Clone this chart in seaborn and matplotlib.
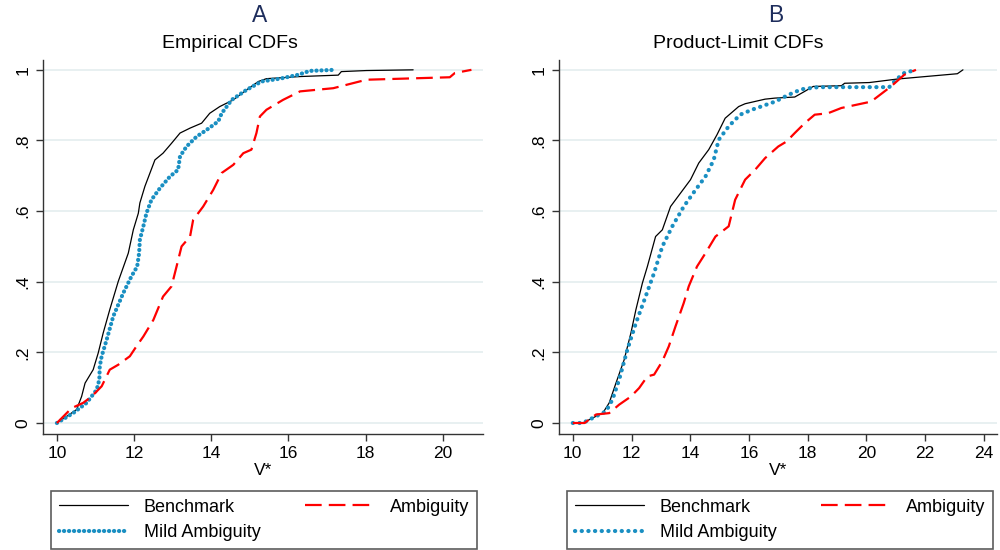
import matplotlib
matplotlib.use("Agg")
import matplotlib.pyplot as plt
import seaborn as sns
import pandas as pd

# ---------------- data ----------------
# Panel A: Empirical CDFs
a_bench_x = [10.0, 10.51, 10.64, 10.73, 10.94, 11.07, 11.20, 11.37, 11.59, 11.85, 11.98, 12.11, 12.15,
             12.28, 12.54, 12.75, 12.97, 13.19, 13.45, 13.75, 13.96, 14.22, 14.57, 14.91, 15.22, 15.43,
             16.30, 17.29, 17.37, 18.02, 19.23]
a_bench_y = [0.0, 0.038, 0.075, 0.113, 0.151, 0.198, 0.255, 0.321, 0.401, 0.481, 0.547, 0.594, 0.623,
             0.670, 0.745, 0.764, 0.792, 0.821, 0.835, 0.849, 0.877, 0.896, 0.915, 0.943, 0.967, 0.975,
             0.981, 0.985, 0.995, 0.998, 1.0]
a_mild_x = [10.0, 10.42, 10.77, 11.03, 11.10, 11.11, 11.16, 11.29, 11.46, 11.72, 11.93, 12.08, 12.13,
            12.15, 12.24, 12.32, 12.45, 12.67, 12.93, 13.14, 13.19, 13.36, 13.62, 13.88, 14.18, 14.27,
            14.53, 14.91, 15.30, 15.78, 16.25, 16.55, 17.20]
a_mild_y = [0.0, 0.028, 0.057, 0.094, 0.123, 0.160, 0.189, 0.236, 0.302, 0.368, 0.415, 0.443, 0.481,
            0.519, 0.557, 0.594, 0.632, 0.665, 0.698, 0.717, 0.755, 0.783, 0.811, 0.830, 0.854, 0.877,
            0.915, 0.943, 0.967, 0.975, 0.986, 0.997, 1.0]
a_amb_x = [10.0, 10.38, 10.68, 10.90, 11.16, 11.37, 11.59, 11.89, 12.06, 12.24, 12.50, 12.75, 12.97,
           13.10, 13.23, 13.45, 13.53, 13.79, 14.05, 14.27, 14.57, 14.83, 15.04, 15.17, 15.26, 15.43,
           15.86, 16.30, 17.16, 18.02, 20.18, 20.31, 20.74]
a_amb_y = [0.0, 0.042, 0.057, 0.075, 0.104, 0.151, 0.165, 0.189, 0.217, 0.245, 0.292, 0.358, 0.387,
           0.443, 0.500, 0.528, 0.575, 0.613, 0.660, 0.708, 0.731, 0.764, 0.774, 0.821, 0.868, 0.887,
           0.915, 0.939, 0.948, 0.972, 0.979, 0.991, 1.0]

# Panel B: Product-Limit CDFs
b_bench_x = [10.0, 10.34, 10.79, 11.02, 11.24, 11.47, 11.75, 11.98, 12.15, 12.37, 12.54, 12.82, 13.05,
             13.33, 13.67, 14.01, 14.29, 14.63, 14.91, 15.19, 15.65, 15.87, 16.55, 16.89, 17.56, 17.90,
             18.19, 19.15, 19.26, 20.10, 21.06, 23.10, 23.29]
b_bench_y = [0.0, 0.0, 0.019, 0.028, 0.057, 0.113, 0.179, 0.255, 0.321, 0.396, 0.443, 0.528, 0.547,
             0.613, 0.651, 0.689, 0.736, 0.774, 0.816, 0.863, 0.896, 0.904, 0.917, 0.920, 0.923, 0.939,
             0.953, 0.955, 0.962, 0.964, 0.974, 0.989, 1.0]
b_mild_x = [10.0, 10.34, 10.79, 11.13, 11.35, 11.58, 11.86, 12.15, 12.48, 12.77, 13.05, 13.39, 13.78,
            14.18, 14.52, 14.80, 14.97, 15.31, 15.70, 16.10, 16.89, 17.34, 17.79, 18.36, 20.78, 21.01,
            21.29, 21.69]
b_mild_y = [0.0, 0.0, 0.019, 0.033, 0.066, 0.123, 0.208, 0.283, 0.358, 0.425, 0.500, 0.557, 0.613,
            0.660, 0.698, 0.745, 0.802, 0.840, 0.873, 0.887, 0.910, 0.929, 0.945, 0.951, 0.951, 0.972,
            0.991, 1.0]
b_amb_x = [10.0, 10.40, 10.79, 11.24, 11.58, 11.98, 12.26, 12.54, 12.77, 13.05, 13.27, 13.50, 13.78,
           13.95, 14.23, 14.52, 14.86, 15.31, 15.53, 15.87, 16.21, 16.55, 17.00, 17.28, 17.56, 17.90,
           18.24, 18.69, 19.15, 20.16, 20.84, 21.29, 21.69]
b_amb_y = [0.0, 0.0, 0.024, 0.028, 0.052, 0.075, 0.099, 0.132, 0.137, 0.175, 0.217, 0.274, 0.340,
           0.387, 0.443, 0.481, 0.528, 0.557, 0.632, 0.689, 0.717, 0.750, 0.783, 0.797, 0.821, 0.849,
           0.873, 0.877, 0.892, 0.910, 0.953, 0.986, 1.0]

series_names = ["Benchmark", "Mild Ambiguity", "Ambiguity"]
y_ticks = [0, 0.2, 0.4, 0.6, 0.8, 1.0]
y_tick_labels = ["0", ".2", ".4", ".6", ".8", "1"]
a_x_ticks = [10, 12, 14, 16, 18, 20]
b_x_ticks = [10, 12, 14, 16, 18, 20, 22, 24]
panel_letters = ["A", "B"]
panel_titles = ["Empirical CDFs", "Product-Limit CDFs"]
x_label = "V*"

# ---------------- style ----------------
sns.set_theme(style="white")
plt.rcParams["font.family"] = ["Liberation Sans", "DejaVu Sans"]
plt.rcParams["text.color"] = "black"
plt.rcParams["axes.labelcolor"] = "black"
plt.rcParams["xtick.color"] = "black"
plt.rcParams["ytick.color"] = "black"

BLUE = "#1a8fc2"
RED = "#ff0000"


def styles(name, panel):
    if name == "Benchmark":
        return dict(color="black", linewidth=0.9, linestyle="-")
    if name == "Mild Ambiguity":
        gap = 1.15 if panel == 0 else 1.55
        return dict(color=BLUE, linewidth=3.0, linestyle=(0, (0.05, gap)),
                    solid_capstyle="round", dash_capstyle="round")
    return dict(color=RED, linewidth=1.6, linestyle=(0, (7.5, 3.2)), dash_capstyle="butt")


fig = plt.figure(figsize=(10, 5.5), dpi=100)
axA = fig.add_axes([0.043, 0.211, 0.440, 0.680])
axB = fig.add_axes([0.559, 0.211, 0.438, 0.680])

panels = [
    (axA, {"Benchmark": (a_bench_x, a_bench_y), "Mild Ambiguity": (a_mild_x, a_mild_y),
           "Ambiguity": (a_amb_x, a_amb_y)}, a_x_ticks, (9.64, 21.04)),
    (axB, {"Benchmark": (b_bench_x, b_bench_y), "Mild Ambiguity": (b_mild_x, b_mild_y),
           "Ambiguity": (b_amb_x, b_amb_y)}, b_x_ticks, (9.53, 24.45)),
]

for i, (ax, data, xt, xlim) in enumerate(panels):
    for name in series_names:
        xs, ys = data[name]
        df = pd.DataFrame({"x": xs, "y": ys})
        sns.lineplot(data=df, x="x", y="y", ax=ax, estimator=None, sort=False,
                     label=name, legend=False, zorder=3, **styles(name, i))
    ax.set_xlim(*xlim)
    ax.set_ylim(-0.031, 1.028)
    ax.set_xticks(xt)
    ax.set_xticklabels([str(v) for v in xt], fontsize=12.5)
    ax.set_yticks(y_ticks)
    ax.set_yticklabels(y_tick_labels, fontsize=12.5, rotation=90, va="center")
    ax.tick_params(axis="both", direction="out", length=5, width=1, color="#333333",
                   left=True, bottom=True, pad=4)
    ax.grid(axis="y", color="#e8f0f1", linewidth=1.4)
    ax.grid(axis="x", visible=False)
    ax.set_axisbelow(True)
    for s in ["top", "right"]:
        ax.spines[s].set_visible(False)
    for s in ["left", "bottom"]:
        ax.spines[s].set_color("#333333")
        ax.spines[s].set_linewidth(1.0)
    ax.set_xlabel(x_label, fontsize=12.5, labelpad=1)
    ax.set_ylabel("")

    handles, labels = ax.get_legend_handles_labels()
    order = [labels.index(n) for n in ["Benchmark", "Mild Ambiguity", "Ambiguity"]]
    leg = ax.legend([handles[k] for k in order], [labels[k] for k in order],
                    ncol=2, loc="lower left",
                    bbox_to_anchor=(0.051 if i == 0 else 0.567, 0.0018, 0.426, 0.103),
                    bbox_transform=fig.transFigure, mode="expand",
                    fontsize=13, handlelength=3.8, handletextpad=0.9, columnspacing=1.6,
                    labelspacing=0.45, borderpad=0.45, borderaxespad=0.0,
                    fancybox=False, frameon=True)
    leg.get_frame().set_edgecolor("#333333")
    leg.get_frame().set_linewidth(1.2)

# titles
fig.text(0.260, 1 - 16 / 550, panel_letters[0], ha="center", va="center", fontsize=16.5, color="#1e2d5c")
fig.text(0.230, 1 - 44 / 550, panel_titles[0], ha="center", va="center", fontsize=14, color="black")
fig.text(0.776, 1 - 16 / 550, panel_letters[1], ha="center", va="center", fontsize=16.5, color="#1e2d5c")
fig.text(0.738, 1 - 44 / 550, panel_titles[1], ha="center", va="center", fontsize=14, color="black")

fig.savefig("out.png", dpi=100, facecolor="white")
